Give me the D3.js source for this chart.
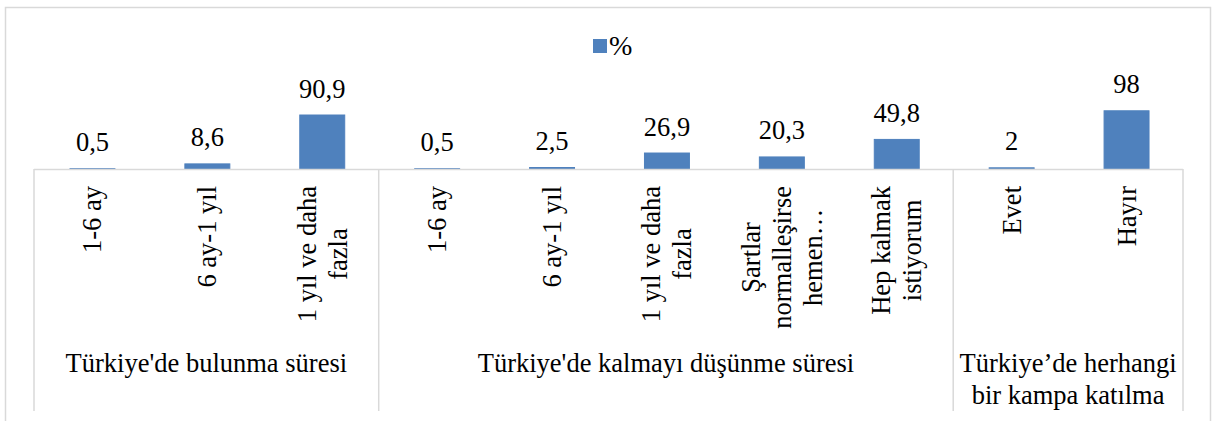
<!DOCTYPE html>
<html>
<head>
<meta charset="utf-8">
<script src="https://cdn.jsdelivr.net/npm/d3@7/dist/d3.min.js"></script>
<style>
  html, body { margin: 0; padding: 0; background: #fff; }
  text { font-family: "Liberation Serif", "Times New Roman", serif; fill: #000; }
</style>
</head>
<body>
<svg id="chart" width="1218" height="421"></svg>
<script>
// ---- data ----
const seriesName = "%";
const categoryLines = [
  ["1-6 ay"],
  ["6 ay-1 yıl"],
  ["1 yıl ve daha", "fazla"],
  ["1-6 ay"],
  ["6 ay-1 yıl"],
  ["1 yıl ve daha", "fazla"],
  ["Şartlar", "normalleşirse", "hemen…"],
  ["Hep kalmak", "istiyorum"],
  ["Evet"],
  ["Hayır"]
];
const values = [0.5, 8.6, 90.9, 0.5, 2.5, 26.9, 20.3, 49.8, 2, 98];
const groupLines = [
  ["Türkiye'de bulunma süresi"],
  ["Türkiye'de kalmayı düşünme süresi"],
  ["Türkiye’de herhangi", "bir kampa katılma"]
];
const groupSizes = [3, 5, 2];

// ---- layout ----
const svg = d3.select("#chart");
const fontSize = 26.5;
const lineH = 31;
const axisY = 169;
const plotLeft = 34, plotRight = 1183;
const gridColor = "#d9d9d9";
const barColor = "#4f81bd";

// outer frame
svg.append("rect")
  .attr("x", 5.5).attr("y", 7.5)
  .attr("width", 1205).attr("height", 440)
  .attr("fill", "#fff")
  .attr("stroke", gridColor).attr("stroke-width", 1.5);

const idx = d3.range(values.length);
const x = d3.scaleBand().domain(idx).range([plotLeft, plotRight])
  .paddingInner(0.6).paddingOuter(0.3);
const y = d3.scaleLinear().domain([0, 100]).range([axisY, axisY - 59.4]);

// bars
svg.append("g").selectAll("rect").data(idx).join("rect")
  .attr("x", i => x(i) + 1.5)
  .attr("width", x.bandwidth() - 1)
  .attr("y", i => y(values[i]))
  .attr("height", i => y(0) - y(values[i]))
  .attr("fill", barColor)
  .attr("stroke", barColor)
  .attr("stroke-width", 1);

// value labels
const fmt = v => String(v).replace(".", ",");
svg.append("g").selectAll("text").data(idx).join("text")
  .attr("x", i => x(i) + 1 + x.bandwidth() / 2)
  .attr("y", i => y(values[i]) - 17.5)
  .attr("text-anchor", "middle")
  .attr("font-size", fontSize)
  .text(i => fmt(values[i]));

// axis line
svg.append("line")
  .attr("x1", plotLeft).attr("x2", plotRight)
  .attr("y1", axisY + 0.5).attr("y2", axisY + 0.5)
  .attr("stroke", gridColor).attr("stroke-width", 1.5);

// group separators
const step = x.step();
const boundaries = [0];
groupSizes.forEach(s => boundaries.push(boundaries[boundaries.length - 1] + s));
const xEdge = k => plotLeft + k * step;
svg.append("g").selectAll("line").data(boundaries).join("line")
  .attr("x1", k => xEdge(k)).attr("x2", k => xEdge(k))
  .attr("y1", axisY).attr("y2", 411)
  .attr("stroke", gridColor).attr("stroke-width", 1.5);

// rotated category labels
const labelTop = 186;
idx.forEach(i => {
  const lines = categoryLines[i];
  const cx = x(i) + 1 + x.bandwidth() / 2;
  const g = svg.append("g");
  const texts = lines.map(ln => g.append("text")
    .attr("font-size", fontSize)
    .attr("text-anchor", "middle")
    .attr("dominant-baseline", "central")
    .text(ln));
  const maxLen = d3.max(texts, t => t.node().getComputedTextLength());
  const cy = labelTop + maxLen / 2;
  texts.forEach((t, j) => {
    const off = (j - (lines.length - 1) / 2) * lineH;
    t.attr("transform", `translate(${cx + off},${cy}) rotate(-90)`);
  });
});

// group labels
groupLines.forEach((lines, gi) => {
  const cx = (xEdge(boundaries[gi]) + xEdge(boundaries[gi + 1])) / 2;
  lines.forEach((ln, j) => {
    svg.append("text")
      .attr("x", cx)
      .attr("y", 363 + j * 32)
      .attr("text-anchor", "middle")
      .attr("dominant-baseline", "central")
      .attr("font-size", fontSize)
      .text(ln);
  });
});

// legend
svg.append("rect").attr("x", 593).attr("y", 39).attr("width", 14).attr("height", 14).attr("fill", barColor);
svg.append("text").attr("x", 609).attr("y", 55).attr("font-size", 28).text(seriesName);
</script>
</body>
</html>
